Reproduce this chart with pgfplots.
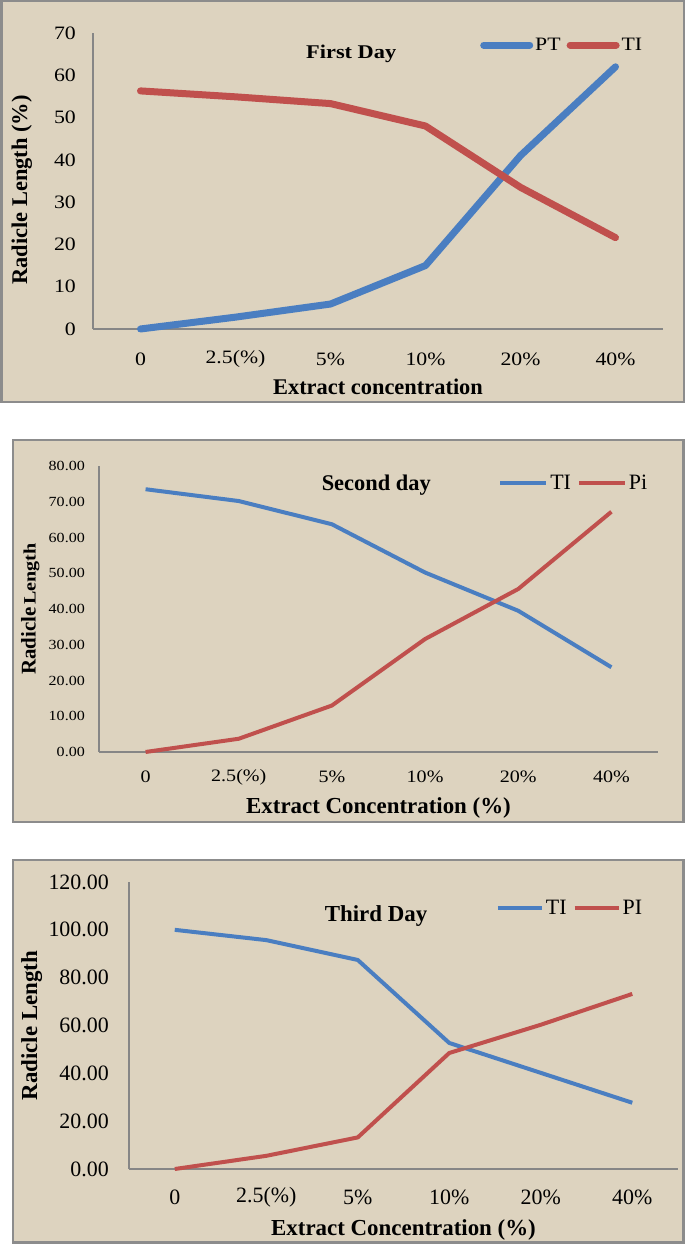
\documentclass[border=0pt]{standalone}
\usepackage{pgfplots}
\usepackage{pgfplotstable}
\pgfplotsset{compat=1.18}
\usepackage{fontspec}
\setmainfont{Liberation Serif}
\newfontfamily\wfont[FakeStretch=1.15]{Liberation Serif}
\definecolor{parch}{RGB}{221,211,191}
\definecolor{framegray}{RGB}{140,140,140}
\definecolor{axgray}{RGB}{134,134,134}
\definecolor{xlblue}{RGB}{74,126,193}
\definecolor{xlred}{RGB}{192,80,77}

\pgfplotstableread{
x PT TI
0 0 56.3
1 2.8 54.9
2 5.9 53.3
3 15 48
4 41 33.5
5 62 21.6
}\dayone
\pgfplotstableread{
x TI Pi
0 73.5 0
1 70.2 3.7
2 63.7 13
3 50.2 31.6
4 39.5 45.6
5 23.7 67.2
}\daytwo
\pgfplotstableread{
x TI PI
0 100 0
1 95.7 5.5
2 87.4 13.2
3 52.7 48.5
4 40.2 60.3
5 27.7 73.2
}\daythree

\pgfplotsset{
  panel/.style={
    scale only axis, axis lines=left,
    axis line style={-, draw=axgray, line width=1.5bp},
    major tick length=0pt, tick style={draw=none},
    xmin=-0.5, xmax=5.5, xtick={0,...,5}, ymin=0,
    xticklabels={0,2.5(\%),5\%,10\%,20\%,40\%},
    /pgf/number format/assume math mode=true,
    clip=false,
    legend columns=2,
    legend cell align=left,
    legend style={draw=none, fill=none, anchor=west, inner sep=0pt,
      /tikz/every even column/.append style={column sep=4bp}},
    xticklabel style={anchor=center, inner sep=0pt},
    yticklabel style={anchor=east, inner sep=0pt},
  },
}

\begin{document}
\begin{tikzpicture}[x=1bp,y=1bp]
\useasboundingbox (0,0) rectangle (685,1244);
\fill[white] (0,0) rectangle (685,1244);
% frames
\draw[framegray, line width=2.5bp, fill=parch] (1.25,842) rectangle (683.75,1242.75);
\draw[framegray, line width=2.5bp, fill=parch] (13,422) rectangle (683.5,804);
\draw[framegray, line width=2.5bp, fill=parch] (13,1.25) rectangle (683.5,384);

% Panel 1
\begin{axis}[panel,
  at={(93bp,915bp)}, anchor=south west,
  width=570bp, height=296bp,
  ymax=70, ytick={0,10,...,70},
  xticklabel style={yshift=-30bp, font=\wfont\fontsize{19}{19}\selectfont},
  yticklabel style={xshift=-17bp, font=\wfont\fontsize{19}{19}\selectfont},
  xlabel={Extract concentration},
  xlabel style={at={(axis description cs:0.5,-0.196)}, anchor=center, font=\bfseries\fontsize{22.5}{22.5}\selectfont},
  ylabel={Radicle Length (\%)},
  ylabel style={at={(axis description cs:-0.125,0.47)}, anchor=center, rotate=0, font=\bfseries\fontsize{22.5}{22.5}\selectfont},
  title={First Day},
  title style={at={(axis description cs:0.453,0.909)}, anchor=center, font=\wfont\bfseries\fontsize{19.5}{19.5}\selectfont},
  legend style={at={(axis description cs:0.679,0.959)}, font=\wfont\fontsize{19}{19}\selectfont},
  legend image code/.code={\draw[#1] (0bp,0bp) -- (46bp,0bp);},
]
\addplot[xlblue, line width=7bp, line cap=round, line join=round, mark=none] table[x=x, y=PT] {\dayone};
\addlegendentry{PT}
\addplot[xlred, line width=7bp, line cap=round, line join=round, mark=none] table[x=x, y=TI] {\dayone};
\addlegendentry{TI}
\end{axis}

% Panel 2
\begin{axis}[panel,
  at={(99bp,492bp)}, anchor=south west,
  width=559bp, height=286bp,
  ymax=80, ytick={0,10,...,80},
  yticklabel={\pgfmathprintnumber[fixed,fixed zerofill,precision=2]{\tick}},
  xticklabel style={yshift=-25bp, font=\wfont\fontsize{17.5}{17.5}\selectfont},
  yticklabel style={xshift=-14bp, font=\wfont\fontsize{14}{14}\selectfont},
  xlabel={Extract Concentration (\%)},
  xlabel style={at={(axis description cs:0.5,-0.196)}, anchor=center, font=\bfseries\fontsize{23}{23}\selectfont},
  ylabel={{\fontsize{21}{21}\selectfont Radicle} {\wfont\fontsize{17.5}{17.5}\selectfont Length}},
  ylabel style={at={(axis description cs:-0.123,0.5)}, anchor=center, rotate=0, font=\bfseries},
  title={Second day},
  title style={at={(axis description cs:0.496,0.913)}, anchor=center, font=\bfseries\fontsize{22.5}{22.5}\selectfont},
  legend style={at={(axis description cs:0.714,0.941)}, font=\fontsize{22}{22}\selectfont},
  legend image code/.code={\draw[#1] (0bp,0bp) -- (46bp,0bp);},
]
\addplot[xlblue, line width=4bp, line join=round, mark=none] table[x=x, y=TI] {\daytwo};
\addlegendentry{TI}
\addplot[xlred, line width=4bp, line join=round, mark=none] table[x=x, y=Pi] {\daytwo};
\addlegendentry{Pi}
\end{axis}

% Panel 3
\begin{axis}[panel,
  at={(129bp,75bp)}, anchor=south west,
  width=549bp, height=287bp,
  ymax=120, ytick={0,20,...,120},
  yticklabel={\pgfmathprintnumber[fixed,fixed zerofill,precision=2]{\tick}},
  xticklabel style={yshift=-28bp, font=\fontsize{22}{22}\selectfont},
  yticklabel style={xshift=-20bp, font=\fontsize{22}{22}\selectfont},
  xlabel={Extract Concentration (\%)},
  xlabel style={at={(axis description cs:0.5,-0.2125)}, anchor=center, font=\bfseries\fontsize{23}{23}\selectfont},
  ylabel={Radicle Length},
  ylabel style={at={(axis description cs:-0.177,0.5)}, anchor=center, rotate=0, font=\bfseries\fontsize{23}{23}\selectfont},
  title={Third Day},
  title style={at={(axis description cs:0.45,0.861)}, anchor=center, font=\bfseries\fontsize{23}{23}\selectfont},
  legend style={at={(axis description cs:0.668,0.909)}, font=\fontsize{22}{22}\selectfont},
  legend image code/.code={\draw[#1] (0bp,0bp) -- (44bp,0bp);},
]
\addplot[xlblue, line width=4bp, line join=round, mark=none] table[x=x, y=TI] {\daythree};
\addlegendentry{TI}
\addplot[xlred, line width=4bp, line join=round, mark=none] table[x=x, y=PI] {\daythree};
\addlegendentry{PI}
\end{axis}
\end{tikzpicture}
\end{document}
